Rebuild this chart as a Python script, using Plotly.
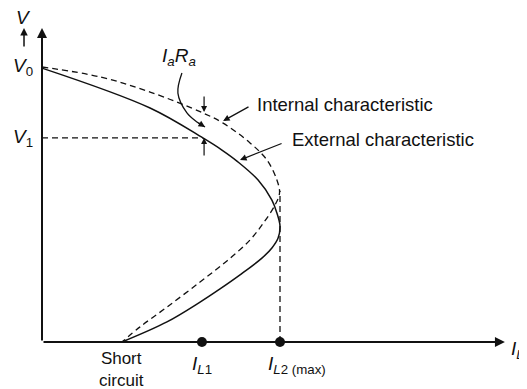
import plotly.graph_objects as go

# ---- data (arbitrary units: I_L2(max)=1, V0=1) ----
ext_x = [0.0, 0.454, 0.676, 0.756, 0.819, 0.908, 0.966, 0.987, 1.0,
         0.992, 0.966, 0.924, 0.832, 0.748, 0.664, 0.525, 0.336]
ext_y = [0.996, 0.851, 0.742, 0.698, 0.658, 0.589, 0.516, 0.469, 0.422,
         0.378, 0.342, 0.305, 0.244, 0.193, 0.145, 0.073, 0.0]

int_x = [0.0, 0.244, 0.454, 0.676, 0.761, 0.874, 0.945, 0.987, 0.998, 0.979, 0.933,
         0.874, 0.777, 0.664, 0.525, 0.412, 0.336]
int_y = [1.0, 0.964, 0.909, 0.833, 0.796, 0.724, 0.662, 0.589, 0.542, 0.498, 0.436,
         0.371, 0.295, 0.218, 0.127, 0.055, 0.0]

V0 = 1.0
V1 = 0.742
I_SC = 0.336
I_L1 = 0.672
I_L2 = 1.0
I_V1 = 0.676

curve_arrow_x = [0.588, 0.571, 0.609, 0.651, 0.685]
curve_arrow_y = [0.978, 0.905, 0.833, 0.800, 0.782]

FONT = "Liberation Sans, Arial, sans-serif"
BLACK = "#111111"
DASH = "6px,4px"

fig = go.Figure()

# V1 horizontal dashed guide
fig.add_trace(go.Scatter(x=[0, I_V1], y=[V1, V1], mode="lines",
                         line=dict(color=BLACK, width=1.3, dash=DASH), hoverinfo="skip"))
# I_L2 vertical dashed guide
fig.add_trace(go.Scatter(x=[I_L2, I_L2], y=[0, 0.55], mode="lines",
                         line=dict(color=BLACK, width=1.3, dash=DASH), hoverinfo="skip"))
# internal characteristic (dashed)
fig.add_trace(go.Scatter(x=int_x, y=int_y, mode="lines", line_shape="spline",
                         line=dict(color=BLACK, width=1.3, dash=DASH), hoverinfo="skip"))
# external characteristic (solid)
fig.add_trace(go.Scatter(x=ext_x, y=ext_y, mode="lines", line_shape="spline",
                         line=dict(color=BLACK, width=1.5), hoverinfo="skip"))
# curved pointer from IaRa
fig.add_trace(go.Scatter(x=curve_arrow_x, y=curve_arrow_y, mode="lines", line_shape="spline",
                         line=dict(color=BLACK, width=1.3), hoverinfo="skip"))
# dots on current axis
fig.add_trace(go.Scatter(x=[I_L1, I_L2], y=[0, 0], mode="markers",
                         marker=dict(color=BLACK, size=10), hoverinfo="skip"))

def arrow(x, y, ax, ay, w=1.5, size=1.0, head=2):
    fig.add_annotation(x=x, y=y, ax=ax, ay=ay, xref="x", yref="y", axref="x", ayref="y",
                       showarrow=True, arrowhead=head, arrowsize=size, arrowwidth=w,
                       arrowcolor=BLACK, text="", standoff=0, startstandoff=0)

# axes
arrow(0, 1.142, 0, 0, w=2, size=1.0)
arrow(1.945, 0, 0, 0, w=2, size=1.0)
# small V arrow
arrow(-0.0756, 1.142, -0.0756, 1.069, w=1.5, size=1.0)
# IaRa indicator arrows
arrow(0.681, 0.836, 0.681, 0.898, w=1.2, size=1.0)
arrow(0.681, 0.742, 0.681, 0.673, w=1.2, size=1.0)
# curved arrow head
arrow(curve_arrow_x[-1], curve_arrow_y[-1], curve_arrow_x[-2], curve_arrow_y[-2], w=1.3, size=1.0)
# characteristic pointers
arrow(0.761, 0.804, 0.874, 0.858, w=1.3, size=1.0)
arrow(0.832, 0.662, 1.013, 0.724, w=1.3, size=1.0)

def text(x, y, s, size=18, xanchor="center", yanchor="middle"):
    fig.add_annotation(x=x, y=y, xref="x", yref="y", text=s, showarrow=False,
                       font=dict(family=FONT, size=size, color=BLACK),
                       xanchor=xanchor, yanchor=yanchor)

text(-0.076, 1.18, "<i>V</i>", size=19)
text(-0.08, V0, "<i>V</i><sub>0</sub>", size=19)
text(-0.08, V1, "<i>V</i><sub>1</sub>", size=19)
text(0.575, 1.036, "<i>I</i><sub><i>a</i></sub><i>R</i><sub><i>a</i></sub>", size=19)
text(0.895, 0.862, "Internal characteristic", size=18.5, xanchor="left")
text(1.042, 0.735, "External characteristic", size=18.5, xanchor="left")
text(1.962, -0.03, "<i>I</i><sub><i>L</i></sub>", size=19, xanchor="left")
text(I_SC, -0.1, "Short<br>circuit", size=17)
text(I_L1, -0.085, "<i>I</i><sub><i>L</i>1</sub>", size=19)
text(I_L2 + 0.07, -0.085, "<i>I</i><sub><i>L</i>2 (max)</sub>", size=19)

# page body adds an 8px offset; ranges are set so data land where the reference has them
fig.update_layout(
    width=527, height=389,
    margin=dict(l=0, r=0, t=0, b=0),
    paper_bgcolor="white", plot_bgcolor="white",
    showlegend=False,
    xaxis=dict(range=[-0.14286, 2.07143], visible=False, fixedrange=True),
    yaxis=dict(range=[-0.2, 1.21455], visible=False, fixedrange=True),
)

fig.write_html("out.html")
